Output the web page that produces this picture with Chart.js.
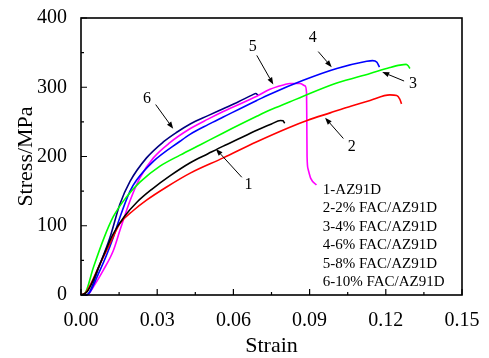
<!DOCTYPE html>
<html>
<head>
<meta charset="utf-8">
<script src="https://cdn.jsdelivr.net/npm/chart.js@4"></script>
<style>
  html, body { margin: 0; padding: 0; background: #fff; }
  #wrap { width: 489px; height: 358px; }
</style>
</head>
<body>
<div id="wrap"><canvas id="stressChart"></canvas></div>
<script>
// tick values
const xTicks = [0, 0.03, 0.06, 0.09, 0.12, 0.15];
const yTicks = [0, 100, 200, 300, 400];

// curves: [strain, stress in MPa]
const curve1 = [[0,0],[0.0025,5],[0.0075,45],[0.0125,87],[0.017,113],[0.022,134],[0.028,153],[0.035,172],[0.043,191],[0.05,204],[0.056,215],[0.063,227],[0.0692,238],[0.075,247],[0.0785,252],[0.0795,251.5],[0.0802,248]];
const curve2 = [[0,0],[0.002,4],[0.0075,45],[0.0114,74],[0.0153,103],[0.0206,122],[0.0258,137],[0.0337,156],[0.043,176],[0.056,198],[0.069,221],[0.082,242],[0.089,252],[0.0981,263],[0.1065,273],[0.1138,281],[0.1216,289],[0.1243,288],[0.1255,283],[0.1262,276]];
const curve3 = [[0,0],[0.0015,2],[0.0049,40],[0.0088,80],[0.0127,113],[0.018,142],[0.0232,163],[0.0311,186],[0.039,202],[0.047,217],[0.056,234],[0.0692,258],[0.0744,267],[0.0823,279],[0.0875,287],[0.1007,306],[0.1138,320],[0.1216,328.5],[0.1256,332],[0.128,333],[0.1288,331],[0.1295,327]];
const curve4 = [[0,0],[0.002,0],[0.0075,36],[0.0127,83],[0.0153,112],[0.0193,150],[0.0219,166],[0.0285,193],[0.039,222],[0.0429,232],[0.05,246],[0.056,257],[0.0692,281],[0.0744,290],[0.0875,310],[0.1007,327],[0.1125,337.5],[0.1148,338.5],[0.1165,336],[0.1175,329]];
const curve5 = [[0,0],[0.0025,0],[0.0049,12],[0.0088,36],[0.0127,64],[0.0153,93],[0.0193,136],[0.0232,169],[0.0285,198],[0.035,220],[0.0429,240],[0.05,254],[0.056,265],[0.0692,287],[0.0744,297],[0.08,303.5],[0.0823,305.5],[0.0862,305.5],[0.0882,302],[0.0888,292],[0.0889,250],[0.089,200],[0.0894,182],[0.0905,168],[0.0927,159]];
const curve6 = [[0,0],[0.0022,0],[0.0075,45],[0.0114,83],[0.0153,131],[0.0193,164],[0.0258,198],[0.0324,221],[0.0377,235],[0.043,247],[0.05,259],[0.056,269],[0.062,279],[0.0675,289],[0.0688,291],[0.0698,288]];

const curves = [curve1, curve2, curve3, curve4, curve5, curve6];
const colors = ['#000000', '#ff0000', '#00ff00', '#0000ff', '#ff00ff', '#000080'];

// numbered labels and their arrows (data coords)
const tagText = ['1', '2', '3', '4', '5', '6'];
const tagX = [0.0659, 0.1066, 0.1307, 0.0912, 0.0676, 0.026];
const tagY = [159, 214, 305, 371, 359, 283];
const arrowFrom = [[0.0633,170],[0.1033,226],[0.1272,309],[0.0934,351.5],[0.0692,346],[0.0294,275]];
const arrowTo = [[0.0531,211],[0.0961,256],[0.1186,322],[0.0987,329],[0.0757,304],[0.0363,240]];

const legendLines = ['1-AZ91D', '2-2% FAC/AZ91D', '3-4% FAC/AZ91D', '4-6% FAC/AZ91D', '5-8% FAC/AZ91D', '6-10% FAC/AZ91D'];

const serif = "'Liberation Serif', 'DejaVu Serif', serif";

const decor = {
    id: 'decor',
    afterDatasetsDraw(chart) {
        const ctx = chart.ctx;
        const xs = chart.scales.x, ys = chart.scales.y;
        const a = chart.chartArea;
        ctx.save();
        // frame
        ctx.strokeStyle = '#000';
        ctx.lineWidth = 1.6;
        ctx.strokeRect(a.left, a.top, a.right - a.left, a.bottom - a.top);
        // inward ticks, major and minor
        ctx.lineWidth = 1.2;
        ctx.beginPath();
        xTicks.forEach((v, i) => {
            const px = xs.getPixelForValue(v);
            ctx.moveTo(px, a.bottom); ctx.lineTo(px, a.bottom - 6);
            if (i < xTicks.length - 1) {
                const mx = xs.getPixelForValue((v + xTicks[i + 1]) / 2);
                ctx.moveTo(mx, a.bottom); ctx.lineTo(mx, a.bottom - 3);
            }
        });
        yTicks.forEach((v, i) => {
            const py = ys.getPixelForValue(v);
            ctx.moveTo(a.left, py); ctx.lineTo(a.left + 6, py);
            if (i < yTicks.length - 1) {
                const my = ys.getPixelForValue((v + yTicks[i + 1]) / 2);
                ctx.moveTo(a.left, my); ctx.lineTo(a.left + 3, my);
            }
        });
        ctx.stroke();

        // arrows
        ctx.fillStyle = '#000';
        ctx.lineWidth = 1;
        arrowFrom.forEach((f, i) => {
            const x0 = xs.getPixelForValue(f[0]), y0 = ys.getPixelForValue(f[1]);
            const x1 = xs.getPixelForValue(arrowTo[i][0]), y1 = ys.getPixelForValue(arrowTo[i][1]);
            const ang = Math.atan2(y1 - y0, x1 - x0);
            const hl = 7, hw = 2.6;
            const bx = x1 - hl * Math.cos(ang), by = y1 - hl * Math.sin(ang);
            ctx.beginPath();
            ctx.moveTo(x0, y0); ctx.lineTo(bx, by);
            ctx.stroke();
            ctx.beginPath();
            ctx.moveTo(x1, y1);
            ctx.lineTo(bx + hw * Math.sin(ang), by - hw * Math.cos(ang));
            ctx.lineTo(bx - hw * Math.sin(ang), by + hw * Math.cos(ang));
            ctx.closePath();
            ctx.fill();
        });

        // numbers
        ctx.font = '16px ' + serif;
        ctx.textAlign = 'center';
        ctx.textBaseline = 'middle';
        tagText.forEach((t, i) => {
            ctx.fillText(t, xs.getPixelForValue(tagX[i]), ys.getPixelForValue(tagY[i]));
        });

        // legend text block
        ctx.font = '15px ' + serif;
        ctx.textAlign = 'left';
        const lx = xs.getPixelForValue(0.0952);
        const ly = ys.getPixelForValue(152);
        legendLines.forEach((t, i) => {
            ctx.fillText(t, lx, ly + i * 18.5);
        });
        ctx.restore();
    }
};

const ctx = document.getElementById('stressChart').getContext('2d');
const stressChart = new Chart(ctx, {
    type: 'scatter',
    data: {
        datasets: curves.map((c, i) => ({
            label: legendLines[i],
            data: c.map(p => ({ x: p[0], y: p[1] })),
            showLine: true,
            borderColor: colors[i],
            backgroundColor: colors[i],
            borderWidth: 1.6,
            pointRadius: 0,
            cubicInterpolationMode: 'monotone',
            clip: false
        }))
    },
    options: {
        responsive: true,
        maintainAspectRatio: false,
        animation: false,
        layout: { padding: { top: 15, right: 27, left: 0, bottom: 0 } },
        scales: {
            x: {
                type: 'linear',
                min: 0,
                max: 0.15,
                afterBuildTicks: s => { s.ticks = xTicks.map(v => ({ value: v })); },
                afterFit: s => { s.height = 63; },
                ticks: {
                    color: '#000',
                    padding: 6,
                    maxRotation: 0,
                    font: { family: serif, size: 20 },
                    callback: v => Number(v).toFixed(2)
                },
                grid: { display: false },
                border: { display: false },
                title: {
                    display: true,
                    text: 'Strain',
                    color: '#000',
                    font: { family: serif, size: 22, lineHeight: 1.1 },
                    padding: { top: 0, bottom: 0 }
                }
            },
            y: {
                type: 'linear',
                min: 0,
                max: 400,
                afterBuildTicks: s => { s.ticks = yTicks.map(v => ({ value: v })); },
                afterFit: s => { s.width = 81; },
                ticks: {
                    color: '#000',
                    padding: 6,
                    font: { family: serif, size: 20 }
                },
                grid: { display: false },
                border: { display: false },
                title: {
                    display: true,
                    text: 'Stress/MPa',
                    color: '#000',
                    font: { family: serif, size: 22, lineHeight: 1.1 },
                    padding: { top: 14, bottom: 0 }
                }
            }
        },
        plugins: {
            legend: { display: false },
            tooltip: { enabled: false }
        }
    },
    plugins: [decor]
});
</script>
</body>
</html>
